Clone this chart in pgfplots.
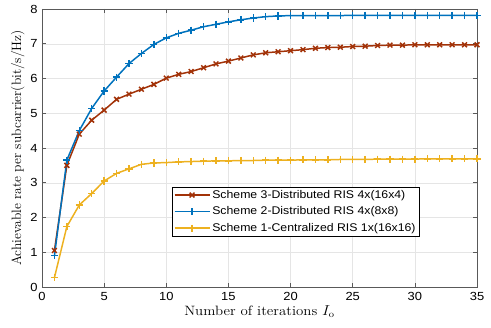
\documentclass[border=0pt]{standalone}
\usepackage{fontspec}
\setsansfont{Liberation Sans}[FakeStretch=1.1]
\usepackage{graphicx}
\usepackage{pgfplots}
\pgfplotsset{compat=1.18}

\definecolor{mred}{RGB}{162,50,8}
\definecolor{mblue}{RGB}{0,114,189}
\definecolor{myellow}{RGB}{237,177,32}

% scheme 3 (distributed 4x(16x4))
\pgfplotstableread{
x y
1 1.05
2 3.50
3 4.40
4 4.80
5 5.09
6 5.40
7 5.55
8 5.69
9 5.83
10 6.01
11 6.12
12 6.20
13 6.31
14 6.42
15 6.50
16 6.59
17 6.68
18 6.74
19 6.77
20 6.80
21 6.83
22 6.87
23 6.89
24 6.90
25 6.92
26 6.93
27 6.95
28 6.96
29 6.96
30 6.97
31 6.97
32 6.97
33 6.97
34 6.97
35 6.97
}\schemethree

% scheme 2 (distributed 4x(8x8))
\pgfplotstableread{
x y
1 0.90
2 3.65
3 4.50
4 5.14
5 5.64
6 6.04
7 6.43
8 6.72
9 6.98
10 7.17
11 7.30
12 7.39
13 7.49
14 7.56
15 7.63
16 7.69
17 7.74
18 7.78
19 7.80
20 7.81
21 7.81
22 7.81
23 7.81
24 7.81
25 7.82
26 7.82
27 7.82
28 7.82
29 7.82
30 7.82
31 7.82
32 7.82
33 7.82
34 7.82
35 7.82
}\schemetwo

% scheme 1 (centralized 1x(16x16))
\pgfplotstableread{
x y
1 0.27
2 1.74
3 2.36
4 2.69
5 3.05
6 3.27
7 3.40
8 3.53
9 3.57
10 3.58
11 3.60
12 3.61
13 3.62
14 3.63
15 3.63
16 3.64
17 3.64
18 3.65
19 3.65
20 3.65
21 3.66
22 3.66
23 3.66
24 3.67
25 3.67
26 3.67
27 3.68
28 3.68
29 3.68
30 3.68
31 3.69
32 3.69
33 3.69
34 3.69
35 3.69
}\schemeone

\begin{document}
\begin{tikzpicture}
\begin{axis}[
    scale only axis,
    width=435bp, height=278bp,
    xmin=0, xmax=35, ymin=0, ymax=8,
    xtick={0,5,...,35}, ytick={0,1,...,8},
    grid=major,
    grid style={gray!20, line width=0.5pt},
    axis line style={gray!70!black, line width=0.7pt},
    tick style={gray!70!black, line width=0.6pt},
    tick align=inside,
    major tick length=4bp,
    tick label style={font=\sffamily\fontsize{11.8}{12}\selectfont},
    /pgf/number format/assume math mode=true,
    xticklabel style={yshift=-2bp},
    yticklabel style={xshift=-1bp},
    xlabel={\scalebox{1.1}[1]{Number of iterations $I_{\mathrm{o}}$}},
    ylabel={Achievable rate per subcarrier(bit/s/Hz)},
    label style={font=\fontsize{13.6}{14}\selectfont},
    xlabel style={yshift=2bp},
    ylabel style={yshift=-1bp},
    legend style={at={(0.299,0.181)}, anchor=south west,
        font=\sffamily\fontsize{11.2}{12}\selectfont,
        draw=black, line width=0.5pt, inner sep=1.5pt, row sep=3pt},
    legend cell align=left,
    legend image code/.code={%
        \draw[mark repeat=2, mark phase=2] plot coordinates {(0bp,0bp) (17.5bp,0bp) (35bp,0bp)};},
    every axis plot/.append style={line width=1.5pt},
]
\addplot[color=mred, mark=x, mark size=3.4pt] table {\schemethree};
\addplot[color=mblue, mark=+, mark size=3.6pt] table {\schemetwo};
\addplot[color=myellow, mark=+, mark size=3.6pt] table {\schemeone};
\legend{Scheme 3-Distributed RIS 4x(16x4), Scheme 2-Distributed RIS 4x(8x8), Scheme 1-Centralized RIS 1x(16x16)}
\end{axis}
% keep the reference's white margins round the axis
\path (current axis.south west) ++(-42bp,-41bp) rectangle ++(491bp,328bp);
\end{tikzpicture}
\end{document}
